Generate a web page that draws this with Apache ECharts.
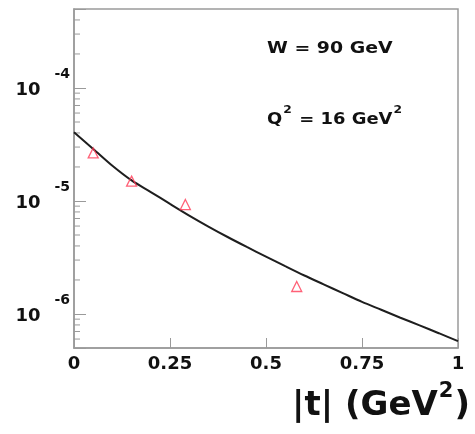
<!DOCTYPE html>
<html>
<head>
<meta charset="utf-8">
<script src="https://cdn.jsdelivr.net/npm/echarts@6/dist/echarts.min.js"></script>
<style>
  html, body { margin: 0; padding: 0; background: #ffffff; }
  #chart { width: 475px; height: 434px; }
</style>
</head>
<body>
<div id="chart"></div>
<script>
// Model curve: d(sigma)/d|t| versus |t|
const tValues = [0, 0.05, 0.1, 0.15, 0.2, 0.25, 0.3, 0.35, 0.4, 0.45, 0.5,
                 0.55, 0.6, 0.65, 0.7, 0.75, 0.8, 0.85, 0.9, 0.95, 1.0];
const modelValues = [4.05e-5, 2.89e-5, 2.05e-5, 1.52e-5, 1.20e-5, 9.42e-6, 7.43e-6,
                     5.94e-6, 4.80e-6, 3.92e-6, 3.22e-6, 2.65e-6, 2.19e-6, 1.83e-6,
                     1.53e-6, 1.28e-6, 1.09e-6, 9.27e-7, 7.93e-7, 6.76e-7, 5.75e-7];

// Measured points
const dataT = [0.05, 0.15, 0.29, 0.58];
const dataValues = [2.66e-5, 1.50e-5, 9.3e-6, 1.75e-6];

// Axis ranges and ticks
const xMin = 0, xMax = 1, xStep = 0.25;
const yMin = 5e-7, yMax = 5e-4;
const yMinorTicks = [6e-7, 7e-7, 8e-7, 9e-7,
                     2e-6, 3e-6, 4e-6, 5e-6, 6e-6, 7e-6, 8e-6, 9e-6,
                     2e-5, 3e-5, 4e-5, 5e-5, 6e-5, 7e-5, 8e-5, 9e-5,
                     2e-4, 3e-4, 4e-4];

const FONT = 'DejaVu Sans';
const AXIS_GRAY = '#9a9a9a';

const chart = echarts.init(document.getElementById('chart'), null, { renderer: 'canvas' });

function isDecade(v) {
  const e = Math.log10(v);
  return Math.abs(e - Math.round(e)) < 1e-6;
}

const option = {
  animation: false,
  backgroundColor: '#ffffff',
  grid: {
    left: 74, right: 17, top: 9, bottom: 86,
    show: true, borderColor: AXIS_GRAY, borderWidth: 1.5
  },
  xAxis: {
    type: 'value',
    min: xMin, max: xMax, interval: xStep,
    axisLine: { show: true, lineStyle: { color: AXIS_GRAY, width: 1.5 } },
    axisTick: { show: true, inside: true, length: 10, lineStyle: { color: AXIS_GRAY, width: 1 } },
    splitLine: { show: false },
    axisLabel: {
      margin: 7,
      fontFamily: FONT, fontWeight: 'bold', fontSize: 18, color: '#111',
      formatter: v => String(v)
    },
    name: '{b||t| (GeV}{s|2}{b|)}',
    nameLocation: 'end',
    nameGap: 12,
    nameTextStyle: {
      align: 'right', verticalAlign: 'top', padding: [33, 0, 0, 0],
      rich: {
        b: { fontFamily: FONT, fontWeight: 'bold', fontSize: 34, color: '#111', verticalAlign: 'middle' },
        s: { fontFamily: FONT, fontWeight: 'bold', fontSize: 21, color: '#111', verticalAlign: 'middle',
             padding: [0, 1, 30, 1] }
      }
    }
  },
  yAxis: {
    type: 'log', logBase: 10,
    min: yMin, max: yMax,
    axisLine: { show: true, lineStyle: { color: AXIS_GRAY, width: 1.5 } },
    axisTick: { show: true, inside: true, length: 12, lineStyle: { color: AXIS_GRAY, width: 1 } },
    splitLine: { show: false },
    axisLabel: {
      margin: 4,
      formatter: v => isDecade(v) ? '{b|10}{s|' + Math.round(Math.log10(v)) + '}' : '',
      rich: {
        b: { fontFamily: FONT, fontWeight: 'bold', fontSize: 18, color: '#111', verticalAlign: 'middle',
             padding: [4, 0, 0, 0] },
        s: { fontFamily: FONT, fontWeight: 'bold', fontSize: 14, color: '#111', verticalAlign: 'middle',
             padding: [0, 0, 27, 14] }
      }
    }
  },
  graphic: [
    {
      type: 'text', x: 267, y: 48.5, scaleX: 1.18,
      style: {
        text: 'W = 90 GeV',
        font: 'bold 16px "DejaVu Sans"', fill: '#111',
        verticalAlign: 'middle', align: 'left'
      }
    },
    {
      type: 'text', x: 267, y: 119.5, scaleX: 1.12,
      style: {
        text: '{b|Q}{s|2}{b| = 16 GeV}{s|2}',
        verticalAlign: 'middle', align: 'left',
        rich: {
          b: { fontFamily: FONT, fontWeight: 'bold', fontSize: 16, fill: '#111', verticalAlign: 'middle' },
          s: { fontFamily: FONT, fontWeight: 'bold', fontSize: 11, fill: '#111', verticalAlign: 'middle',
               padding: [0, 1, 18, 1] }
        }
      }
    }
  ],
  series: [
    {
      // short minor ticks of the logarithmic axis
      type: 'custom',
      silent: true,
      clip: false,
      data: yMinorTicks.map(v => [xMin, v]),
      renderItem: (params, api) => {
        const p = api.coord([api.value(0), api.value(1)]);
        return {
          type: 'line',
          shape: { x1: p[0], y1: p[1], x2: p[0] + 6, y2: p[1] },
          style: { stroke: AXIS_GRAY, lineWidth: 1 }
        };
      },
      z: 1
    },
    {
      type: 'line',
      data: tValues.map((t, i) => [t, modelValues[i]]),
      smooth: 0.3,
      showSymbol: false,
      lineStyle: { color: '#1e1e1e', width: 2 },
      z: 3
    },
    {
      type: 'scatter',
      data: dataT.map((t, i) => [t, dataValues[i]]),
      symbol: 'triangle',
      symbolSize: [10, 10],
      itemStyle: { color: 'rgba(0,0,0,0)', borderColor: '#ff3a55', borderWidth: 1.3 },
      z: 4
    }
  ]
};

chart.setOption(option);
</script>
</body>
</html>
